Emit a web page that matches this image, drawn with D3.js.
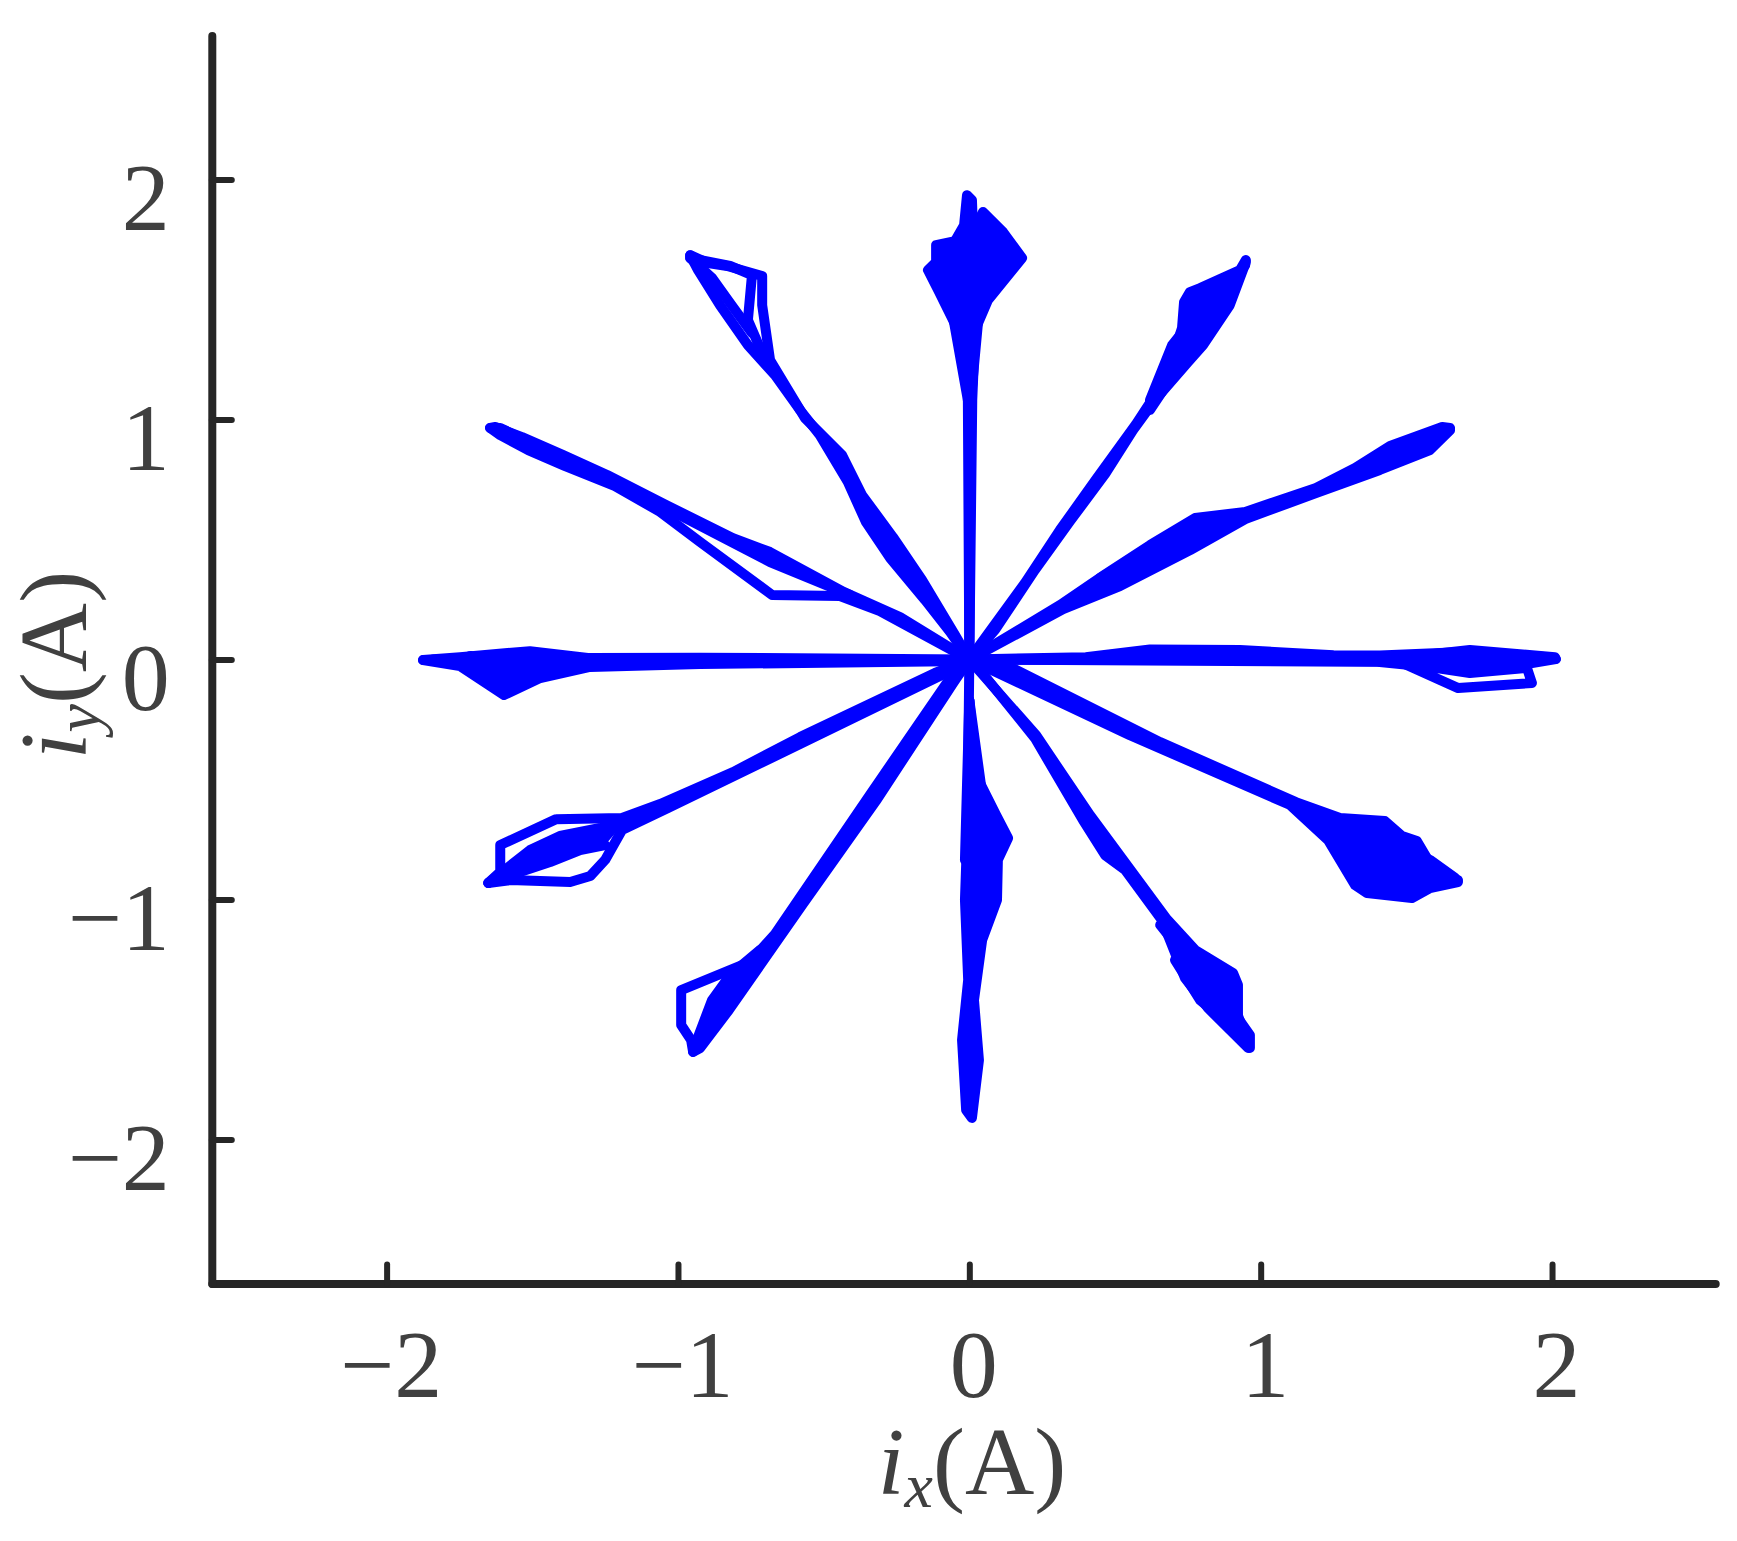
<!DOCTYPE html>
<html>
<head>
<meta charset="utf-8">
<script src="https://cdnjs.cloudflare.com/ajax/libs/d3/7.8.5/d3.min.js"></script>
<style>
body { margin: 0; background: #fff; font-family: "Liberation Serif", serif; }
svg { display: block; }
svg text { font-family: "Liberation Serif", "Times New Roman", serif; }
</style>
</head>
<body>
<svg id="chart"></svg>
<script>
// axis settings
var xTicks = [-2, -1, 0, 1, 2];
var yTicks = [-2, -1, 0, 1, 2];
var xLimits = [-2.6, 2.56];
var yLimits = [-2.6, 2.6];

// current trajectory, one array of passes per arm (ix, iy in A)
var arm0 = [
    [[0,0],[0.40,0.010],[0.620,0.042],[0.929,0.040],[1.250,0.018],[1.409,0.017],[1.718,0.033],[1.986,0.010],[2.013,0.002]],
    [[2.013,0.002],[1.890,-0.023],[1.409,-0.002],[0.723,-0.002],[0,0]],
    [[0,0],[1.478,-0.010],[1.678,-0.119],[1.931,-0.098],[1.914,-0.035],[1.718,-0.056],[1.581,-0.031],[1.409,-0.002]],
    [[1.409,-0.002],[1.718,0.040],[2.010,0.010],[1.821,-0.035],[1.616,-0.035],[1.409,-0.010]]
];
var arm30 = [
    [[0,0],[0.311,0.227],[0.462,0.352],[0.620,0.477],[0.775,0.590],[0.947,0.615],[1.190,0.715],[1.324,0.798],[1.444,0.890],[1.623,0.969],[1.650,0.965]],
    [[1.650,0.956],[1.581,0.873],[1.409,0.790],[1.190,0.694],[0.947,0.585],[0.758,0.456],[0.517,0.306],[0.322,0.210],[0,0]],
    [[0.449,0.340],[0.655,0.477],[0.792,0.540],[0.964,0.602],[1.135,0.685]],
    [[1.190,0.706],[1.409,0.840],[1.616,0.935]],
    [[0.517,0.352],[0.758,0.498],[0.947,0.598]]
];
var arm60 = [
    [[0,0],[0.191,0.319],[0.311,0.540],[0.431,0.744],[0.572,0.981],[0.655,1.135],[0.696,1.256],[0.730,1.381],[0.737,1.490],[0.757,1.531],[0.792,1.548],[0.929,1.623],[0.949,1.665]],
    [[0.949,1.656],[0.894,1.477],[0.802,1.310],[0.751,1.240],[0.637,1.081],[0.562,0.956],[0.466,0.773],[0.346,0.577],[0.225,0.373],[0.088,0.123],[0,0]],
    [[0.620,1.081],[0.696,1.310],[0.792,1.456],[0.922,1.581],[0.843,1.415],[0.723,1.227],[0.620,1.040]],
    [[0.637,1.102],[0.757,1.373],[0.878,1.540],[0.947,1.644]]
];
var arm90 = [
    [[0,0],[-0.001,1.081],[-0.039,1.373],[-0.107,1.540],[-0.142,1.623],[-0.114,1.656],[-0.114,1.727],[-0.049,1.744],[-0.018,1.810],[-0.008,1.935],[0.009,1.915],[0.016,1.665],[0.009,1.373],[0.005,1.081],[0,0]],
    [[0,0],[0.010,1.081],[0.020,1.373],[0.064,1.498],[0.181,1.673],[0.116,1.781],[0.047,1.865],[0.023,1.810],[0.009,1.581],[-0.005,1.081],[0,0]],
    [[-0.005,1.081],[-0.066,1.498],[-0.032,1.706],[0.054,1.748],[0.088,1.706],[0.037,1.498],[0.005,1.081]]
];
var arm120 = [
    [[0,0],[-0.066,0.115],[-0.152,0.248],[-0.272,0.423],[-0.355,0.573],[-0.417,0.740],[-0.513,0.935],[-0.581,1.040],[-0.667,1.185],[-0.760,1.310],[-0.856,1.477],[-0.931,1.623],[-0.958,1.685]],
    [[-0.958,1.685],[-0.897,1.652],[-0.831,1.640],[-0.711,1.598],[-0.711,1.477],[-0.684,1.248],[-0.564,1.006],[-0.437,0.852],[-0.368,0.685],[-0.262,0.510],[-0.162,0.331],[-0.049,0.102],[0,0]],
    [[-0.958,1.673],[-0.821,1.640],[-0.746,1.602],[-0.760,1.415],[-0.701,1.248]],
    [[-0.958,1.673],[-0.883,1.590],[-0.821,1.485],[-0.746,1.360]]
];
var arm150 = [
    [[0,0],[-0.238,0.177],[-0.430,0.281],[-0.684,0.448],[-0.811,0.506],[-1.041,0.644],[-1.243,0.769],[-1.394,0.852],[-1.535,0.927],[-1.627,0.969],[-1.645,0.965]],
    [[-1.645,0.965],[-1.610,0.935],[-1.514,0.873],[-1.387,0.806],[-1.216,0.723],[-1.061,0.615],[-0.924,0.490],[-0.677,0.269],[-0.444,0.265],[-0.307,0.202],[0,0]],
    [[-1.061,0.644],[-0.684,0.406],[-0.410,0.269]],
    [[-1.610,0.965],[-1.473,0.885],[-1.267,0.769],[-1.096,0.665]]
];
var arm180 = [
    [[0,0],[-0.924,0.008],[-1.302,0.006],[-1.508,0.035],[-1.748,0.010],[-1.875,-0.002]],
    [[-1.875,-0.002],[-1.748,-0.027],[-1.597,-0.148],[-1.473,-0.077],[-1.302,-0.031],[-0.924,-0.019],[0,-0.006]],
    [[-1.840,0.000],[-1.748,-0.002],[-1.597,-0.085],[-1.473,-0.023],[-1.302,-0.015]],
    [[-1.713,0.015],[-1.597,-0.023],[-1.508,0.006],[-1.302,0.006]]
];
var arm210 = [
    [[0,0],[-0.118,-0.056],[-0.581,-0.323],[-0.811,-0.469],[-1.061,-0.602],[-1.192,-0.660],[-1.418,-0.665],[-1.610,-0.773],[-1.610,-0.885],[-1.651,-0.931]],
    [[-1.651,-0.931],[-1.576,-0.919],[-1.370,-0.927],[-1.301,-0.902],[-1.250,-0.835],[-1.192,-0.710],[-1.034,-0.619],[-0.581,-0.352],[-0.087,-0.060],[0,0]],
    [[-1.651,-0.931],[-1.508,-0.794],[-1.405,-0.735],[-1.267,-0.702],[-1.182,-0.677]],
    [[-1.627,-0.919],[-1.439,-0.844],[-1.336,-0.794],[-1.250,-0.773]]
];
var arm240 = [
    [[0,0],[-0.070,-0.085],[-0.351,-0.581],[-0.667,-1.144],[-0.753,-1.260],[-0.989,-1.377],[-0.989,-1.523],[-0.955,-1.585],[-0.948,-1.635]],
    [[-0.948,-1.635],[-0.924,-1.619],[-0.825,-1.460],[-0.574,-1.023],[-0.321,-0.590],[-0.053,-0.094],[0,0]],
    [[-0.948,-1.627],[-0.883,-1.419],[-0.821,-1.315],[-0.718,-1.210]]
];
var arm270 = [
    [[0,0],[-0.004,-0.460],[-0.008,-0.752],[-0.015,-1.002],[-0.004,-1.335],[-0.025,-1.585],[-0.011,-1.877],[0.009,-1.910],[0.033,-1.669],[0.016,-1.419],[0.044,-1.169],[0.095,-1.002],[0.098,-0.835],[0.133,-0.744],[0.092,-0.648],[0.023,-0.481],[0,-0.169]],
    [[0,-0.169],[0.009,-0.502],[0.078,-0.648],[0.050,-0.877],[0.020,-1.023],[0.002,-1.252],[0.009,-1.585],[0,-1.877]],
    [[0,-0.169],[0.047,-0.585],[0.078,-0.835],[0.054,-0.919],[-0.015,-0.835],[0,-0.169]]
];
var arm300 = [
    [[0,0],[0.037,-0.044],[0.225,-0.327],[0.390,-0.669],[0.466,-0.815],[0.535,-0.877],[0.661,-1.085],[0.740,-1.327],[0.819,-1.452],[0.957,-1.619]],
    [[0.963,-1.619],[0.963,-1.565],[0.922,-1.494],[0.922,-1.356],[0.905,-1.306],[0.775,-1.210],[0.675,-1.077],[0.414,-0.648],[0.229,-0.315],[0,0]],
    [[0.655,-1.106],[0.792,-1.315],[0.912,-1.460]],
    [[0.672,-1.106],[0.833,-1.285],[0.902,-1.419],[0.947,-1.565]],
    [[0.706,-1.252],[0.792,-1.419],[0.895,-1.523]]
];
var arm330 = [
    [[0,0],[0.147,-0.035],[0.655,-0.344],[1.121,-0.594],[1.272,-0.660],[1.426,-0.673],[1.485,-0.735],[1.536,-0.756],[1.595,-0.877],[1.677,-0.919]],
    [[1.677,-0.927],[1.581,-0.952],[1.519,-0.994],[1.365,-0.973],[1.324,-0.940],[1.231,-0.752],[1.101,-0.606],[0.551,-0.315],[0,0]],
    [[1.272,-0.690],[1.348,-0.844],[1.530,-0.927],[1.667,-0.927]],
    [[1.238,-0.710],[1.358,-0.794],[1.495,-0.860],[1.632,-0.910]],
    [[1.289,-0.681],[1.478,-0.773],[1.581,-0.835],[1.667,-0.910]]
];

var arms = [arm0, arm30, arm60, arm90, arm120, arm150, arm180, arm210, arm240, arm270, arm300, arm330];

// where the passes overlap so densely that the area reads as solid:
// [arm, parts], part = [pass, start, end, reversed]
var solids = [
    [arm0, [[0], [1]]],
    [arm30, [[0], [1]]],
    [arm60, [[0], [1]]],
    [arm90, [[0]]], [arm90, [[1]]], [arm90, [[2]]],
    [arm120, [[0, 0, 9], [1, 5]]],
    [arm150, [[0], [1, 0, 6], [2]]],
    [arm180, [[0], [1]]],
    [arm210, [[0, 0, 6], [1, 5]]],
    [arm210, [[2], [3, 0, 4, true]]],
    [arm240, [[0, 0, 5], [2, 0, 4, true], [1, 1]]],
    [arm270, [[0]]], [arm270, [[2]]],
    [arm300, [[0], [1]]],
    [arm330, [[0], [1]]]
];

var W = 1737, H = 1541;
var serif = '"Liberation Serif", "Times New Roman", serif';
var textColor = '#404040';
var axisColor = '#262626';
var lineColor = '#0000ff';

var svg = d3.select('#chart').attr('width', W).attr('height', H);

var x = d3.scaleLinear().domain(xLimits).range([211.8, 1715.2]);
var y = d3.scaleLinear().domain(yLimits).range([1283.5, 35.6]);

var line = d3.line()
    .x(function(d) { return x(d[0]); })
    .y(function(d) { return y(d[1]); });

// trajectory
var traces = svg.append('g').attr('class', 'traces');

traces.selectAll('.solid')
    .data(solids)
    .enter()
    .append('path')
    .attr('class', 'solid')
    .attr('d', function(s) {
        var pts = [];
        s[1].forEach(function(p) {
            var seg = s[0][p[0]].slice(p[1] || 0, p[2]);
            if (p[3]) seg.reverse();
            pts = pts.concat(seg);
        });
        return line(pts) + 'Z';
    })
    .attr('fill', lineColor)
    .attr('stroke', 'none');

arms.forEach(function(arm) {
    traces.selectAll(null)
        .data(arm)
        .enter()
        .append('path')
        .attr('d', line)
        .attr('fill', 'none')
        .attr('stroke', lineColor)
        .attr('stroke-width', 10)
        .attr('stroke-linejoin', 'round')
        .attr('stroke-linecap', 'round');
});

// x axis
var gx = svg.append('g')
    .attr('transform', 'translate(0,' + y(yLimits[0]) + ')')
    .call(d3.axisBottom(x).tickValues(xTicks).tickSizeInner(-19).tickSizeOuter(0).tickFormat(d3.format('d')));
gx.attr('font-family', serif).attr('font-size', 96);
gx.select('.domain').attr('stroke', axisColor).attr('stroke-width', 8).attr('stroke-linecap', 'round');
gx.selectAll('.tick line').attr('stroke', axisColor).attr('stroke-width', 6).attr('stroke-linecap', 'round');
gx.selectAll('.tick text').attr('y', 113).attr('dy', 0).attr('dx', 4).attr('fill', textColor);

// y axis
var gy = svg.append('g')
    .attr('transform', 'translate(' + x(xLimits[0]) + ',0)')
    .call(d3.axisLeft(y).tickValues(yTicks).tickSizeInner(-20).tickSizeOuter(0).tickFormat(d3.format('d')));
gy.attr('font-family', serif).attr('font-size', 96);
gy.select('.domain').attr('stroke', axisColor).attr('stroke-width', 8).attr('stroke-linecap', 'round');
gy.selectAll('.tick line').attr('stroke', axisColor).attr('stroke-width', 6).attr('stroke-linecap', 'round');
gy.selectAll('.tick text').attr('x', -42).attr('y', 50).attr('dy', 0).attr('fill', textColor);

// axis labels
function axisLabel(g, sub) {
    var t = g.append('text')
        .attr('text-anchor', 'middle')
        .attr('font-size', 96)
        .attr('fill', textColor);
    t.append('tspan').attr('font-style', 'italic').text('i');
    t.append('tspan').attr('font-style', 'italic').attr('font-size', 64).attr('dy', 13).text(sub);
    t.append('tspan').attr('dy', -13).text('(A)');
}
axisLabel(svg.append('g').attr('transform', 'translate(972,1494)'), 'x');
axisLabel(svg.append('g').attr('transform', 'translate(86,665) rotate(-90)'), 'y');
</script>
</body>
</html>
